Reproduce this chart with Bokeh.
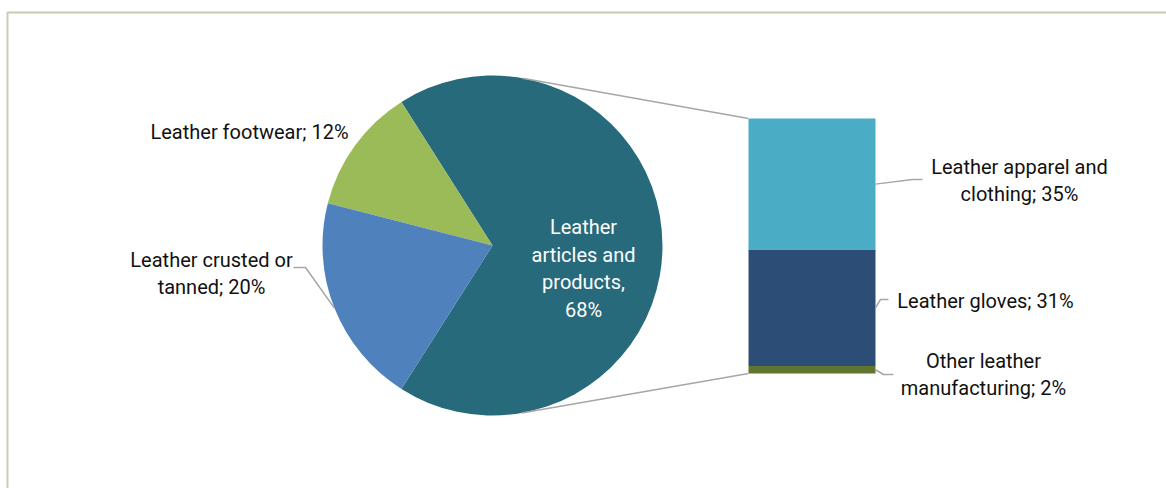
import math
from bokeh.plotting import figure
from bokeh.models import Range1d, ColumnDataSource
from bokeh.core.properties import value
from bokeh.embed import file_html
from bokeh.resources import INLINE

# ---------------- data ----------------
pie_labels = ["Leather articles and products", "Leather footwear", "Leather crusted or tanned"]
pie_shares = [68, 12, 20]
pie_colors = ["#276a7b", "#9bbb59", "#4f81bd"]

bar_labels = ["Leather apparel and clothing", "Leather gloves", "Other leather manufacturing"]
bar_shares = [35, 31, 2]
bar_colors = ["#4bacc6", "#2c4d75", "#5f7530"]

pie_texts = ["Leather\narticles and\nproducts,\n68%", "Leather footwear; 12%", "Leather crusted or\ntanned; 20%"]
bar_texts = ["Leather apparel and\nclothing; 35%", "Leather gloves; 31%", "Other leather\nmanufacturing; 2%"]

# ---------------- layout ----------------
W, H = 1166, 488
CX, CY, R = 492, H - 245, 170
BAR_L, BAR_R = 748, 875
BAR_BOTTOM = H - 373
BAR_PX = 255.0  # pixel height of the full bar
FONT = value("Roboto")
FS = "20px"

p = figure(width=W, height=H, output_backend="svg", toolbar_location=None,
           x_range=Range1d(0, W), y_range=Range1d(0, H), min_border=0)
p.axis.visible = False
p.grid.visible = False
p.outline_line_color = None
p.background_fill_color = "white"
p.border_fill_color = "white"

# chart frame (top and left border)
p.line([7, 7, W], [0, H - 12, H - 12], line_color="#c3ceb2", line_width=2)

# ---------------- pie ----------------
total = float(sum(pie_shares))
first = pie_shares[0] / total * 2 * math.pi
start = -first / 2
starts, ends, mids = [], [], []
for s in pie_shares:
    a = s / total * 2 * math.pi
    starts.append(start)
    ends.append(start + a)
    mids.append(start + a / 2)
    start += a
src = ColumnDataSource(dict(x=[CX] * 3, y=[CY] * 3, s=starts, e=ends, c=pie_colors))
p.wedge(x="x", y="y", radius=R, start_angle="s", end_angle="e", color="c",
        direction="anticlock", source=src, line_color=None)

# ---------------- bar (stacked, bottom = last item) ----------------
bar_total = float(sum(bar_shares))
scale = BAR_PX / bar_total
bottoms, tops = [0] * 3, [0] * 3
cur = BAR_BOTTOM
for i in reversed(range(3)):
    bottoms[i] = cur
    cur += bar_shares[i] * scale
    tops[i] = cur
p.quad(left=[BAR_L] * 3, right=[BAR_R] * 3, bottom=bottoms, top=tops,
       color=bar_colors, line_color=None)

# ---------------- connector lines (tangents from bar corners to circle) ----------------
def tangent(px, py, upper):
    dx, dy = px - CX, py - CY
    d = math.hypot(dx, dy)
    base = math.atan2(dy, dx)
    off = math.acos(R / d)
    ang = base + off if upper else base - off
    return CX + R * math.cos(ang), CY + R * math.sin(ang)

t1 = tangent(BAR_L, tops[0], True)
t2 = tangent(BAR_L, bottoms[2], False)
p.line([t1[0], BAR_L], [t1[1], tops[0]], line_color="#a6a6a6", line_width=1.5)
p.line([t2[0], BAR_L], [t2[1], bottoms[2]], line_color="#a6a6a6", line_width=1.5)

# ---------------- leader lines ----------------
LC = "#a6a6a6"
# crusted or tanned
ax = CX + R * math.cos(mids[2]); ay = CY + R * math.sin(mids[2])
p.line([293, 305, ax], [H - 267, H - 267, ay], line_color=LC, line_width=1.5)
# bar leaders
mid_y = [(b + t) / 2 for b, t in zip(bottoms, tops)]
p.line([BAR_R, 912, 922], [mid_y[0], H - 179, H - 179], line_color=LC, line_width=1.5)
p.line([BAR_R, 880, 888], [mid_y[1], H - 299, H - 299], line_color=LC, line_width=1.5)
p.line([BAR_R, 883, 893], [mid_y[2], H - 374, H - 374], line_color=LC, line_width=1.5)

# ---------------- labels ----------------
def label(x, y, t, color="#111111", align="center"):
    p.text(x=[x], y=[y], text=[t], text_font=FONT, text_font_size=FS,
           text_color=color, text_align=align, text_baseline="middle",
           text_line_height=1.15)

label(583, H - 268, pie_texts[0], color="white")
label(249, H - 131, pie_texts[1])
label(211, H - 273, pie_texts[2])
label(1019, H - 180, bar_texts[0])
label(985, H - 300, bar_texts[1])
label(983, H - 374, bar_texts[2])

open("out.html", "w").write(file_html(p, INLINE))
